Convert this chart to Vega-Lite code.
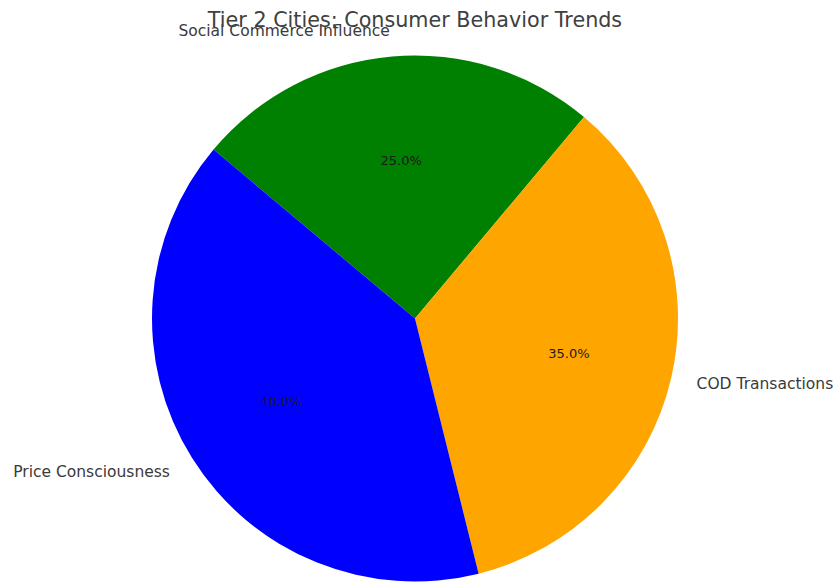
{
  "$schema": "https://vega.github.io/schema/vega-lite/v6.json",
  "width": 526,
  "height": 527,
  "autosize": {"type": "none"},
  "padding": {"left": 152, "right": 158, "top": 55, "bottom": 1},
  "background": "white",
  "config": {"view": {"stroke": null}, "font": "DejaVu Sans"},
  "title": {
    "text": "Tier 2 Cities: Consumer Behavior Trends",
    "fontSize": 20.7,
    "fontWeight": "normal",
    "font": "DejaVu Sans",
    "color": "#404040",
    "anchor": "middle",
    "frame": "group",
    "offset": -8
  },
  "data": {
    "values": [
      {"category": "Social Commerce Influence", "value": 25, "pct": "25.0%", "ord": 1},
      {"category": "COD Transactions", "value": 35, "pct": "35.0%", "ord": 2},
      {"category": "Price Consciousness", "value": 40, "pct": "40.0%", "ord": 3}
    ]
  },
  "encoding": {
    "theta": {"field": "value", "type": "quantitative", "stack": true, "scale": {"range": [-0.8727, 5.4105]}},
    "order": {"field": "ord", "type": "quantitative"}
  },
  "layer": [
    {
      "mark": {"type": "arc", "outerRadius": 263},
      "encoding": {
        "color": {
          "field": "category",
          "type": "nominal",
          "scale": {
            "domain": ["Social Commerce Influence", "COD Transactions", "Price Consciousness"],
            "range": ["#008000", "#ffa500", "#0000ff"]
          },
          "legend": null
        }
      }
    },
    {
      "mark": {"type": "text", "radius": 158, "fontSize": 13, "color": "#1a1a1a", "align": "center", "baseline": "middle"},
      "encoding": {"text": {"field": "pct"}}
    },
    {
      "mark": {"type": "text", "radius": 289, "fontSize": 15.5, "color": "#3a3a3a", "align": "left", "baseline": "middle"},
      "encoding": {
        "text": {"condition": {"test": "datum.category === 'COD Transactions'", "field": "category"}, "value": ""}
      }
    },
    {
      "mark": {"type": "text", "radius": 289, "fontSize": 15.5, "color": "#3a3a3a", "align": "right", "baseline": "middle"},
      "encoding": {
        "text": {"condition": {"test": "datum.category !== 'COD Transactions'", "field": "category"}, "value": ""}
      }
    }
  ]
}
